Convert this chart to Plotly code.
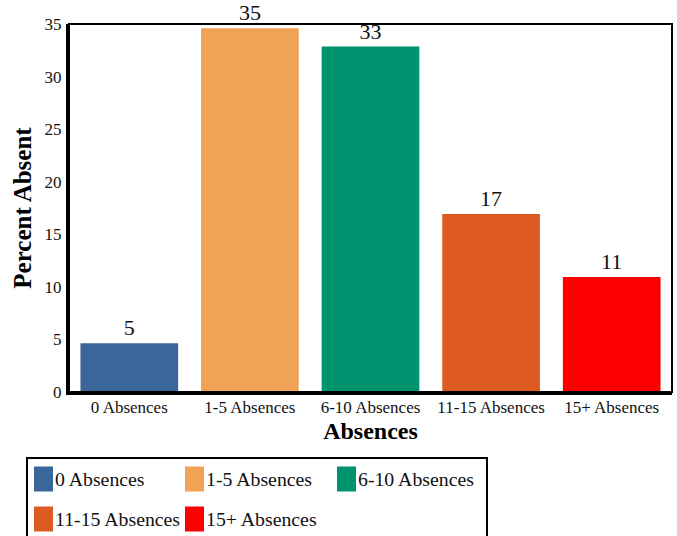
import plotly.graph_objects as go

# Share of students by number of absences
categories = ["0 Absences", "1-5 Absences", "6-10 Absences", "11-15 Absences", "15+ Absences"]
percent_absent = [4.64, 34.6, 32.86, 16.94, 10.93]
bar_colors = ["#3a6699", "#f0a354", "#00936f", "#dd5a22", "#ff0000"]
y_ticks = [0, 5, 10, 15, 20, 25, 30, 35]

W, H = 677, 536
M_L, M_R, M_T, M_B = 69, 5, 24, 144
PLOT_W = W - M_L - M_R
PLOT_H = H - M_T - M_B
FONT = "Liberation Serif"


def px_x(x):
    return (x - M_L) / PLOT_W


def px_y(y):
    return (H - M_B - y) / PLOT_H


fig = go.Figure(
    go.Bar(
        x=categories,
        y=percent_absent,
        marker=dict(color=bar_colors, line=dict(width=0)),
        texttemplate="%{y:.0f}",
        textposition="outside",
        textfont=dict(family=FONT, size=22, color="#111"),
        cliponaxis=False,
        showlegend=False,
        hoverinfo="x+y",
    )
)

shapes = [
    # frame around plot area (top and right edges)
    dict(type="rect", xref="paper", yref="paper", x0=0, x1=1, y0=0, y1=1,
         line=dict(color="black", width=2), layer="above"),
]
annotations = []

# legend box with swatches and labels
shapes.append(dict(type="rect", xref="paper", yref="paper",
                   x0=px_x(27), x1=px_x(487), y0=px_y(560), y1=px_y(458),
                   line=dict(color="black", width=2), fillcolor="white"))
col_x = [34, 185, 337]
row_y = [479, 519]
for i, (cat, col) in enumerate(zip(categories, bar_colors)):
    cx = col_x[i % 3]
    cy = row_y[i // 3]
    shapes.append(dict(type="rect", xref="paper", yref="paper",
                       x0=px_x(cx), x1=px_x(cx + 19),
                       y0=px_y(cy + 12.5), y1=px_y(cy - 12.5),
                       line=dict(width=0), fillcolor=col))
    annotations.append(dict(xref="paper", yref="paper", x=px_x(cx + 19), y=px_y(cy),
                            xanchor="left", yanchor="middle", showarrow=False,
                            text=cat, font=dict(family=FONT, size=19.8, color="#111")))

fig.update_layout(
    width=W, height=H,
    margin=dict(l=M_L, r=M_R, t=M_T, b=M_B, autoexpand=False),
    paper_bgcolor="white", plot_bgcolor="white",
    font=dict(family=FONT, color="#111"),
    bargap=0.19,
    shapes=shapes,
    annotations=annotations,
    xaxis=dict(
        showline=True, linecolor="black", linewidth=3,
        showgrid=False, ticks="", ticklabelstandoff=-2,
        tickfont=dict(family=FONT, size=17, color="#111"),
        title=dict(text="<b>Absences</b>", font=dict(family=FONT, size=24, color="black"),
                   standoff=6),
    ),
    yaxis=dict(
        range=[0, 35], tickvals=y_ticks,
        showline=True, linecolor="black", linewidth=3,
        showgrid=False, zeroline=False, ticks="", ticklabelstandoff=1,
        tickfont=dict(family=FONT, size=17, color="#111"),
        title=dict(text="<b>Percent Absent</b>", font=dict(family=FONT, size=25, color="black"),
                   standoff=6),
    ),
)

fig.write_html("out.html")
